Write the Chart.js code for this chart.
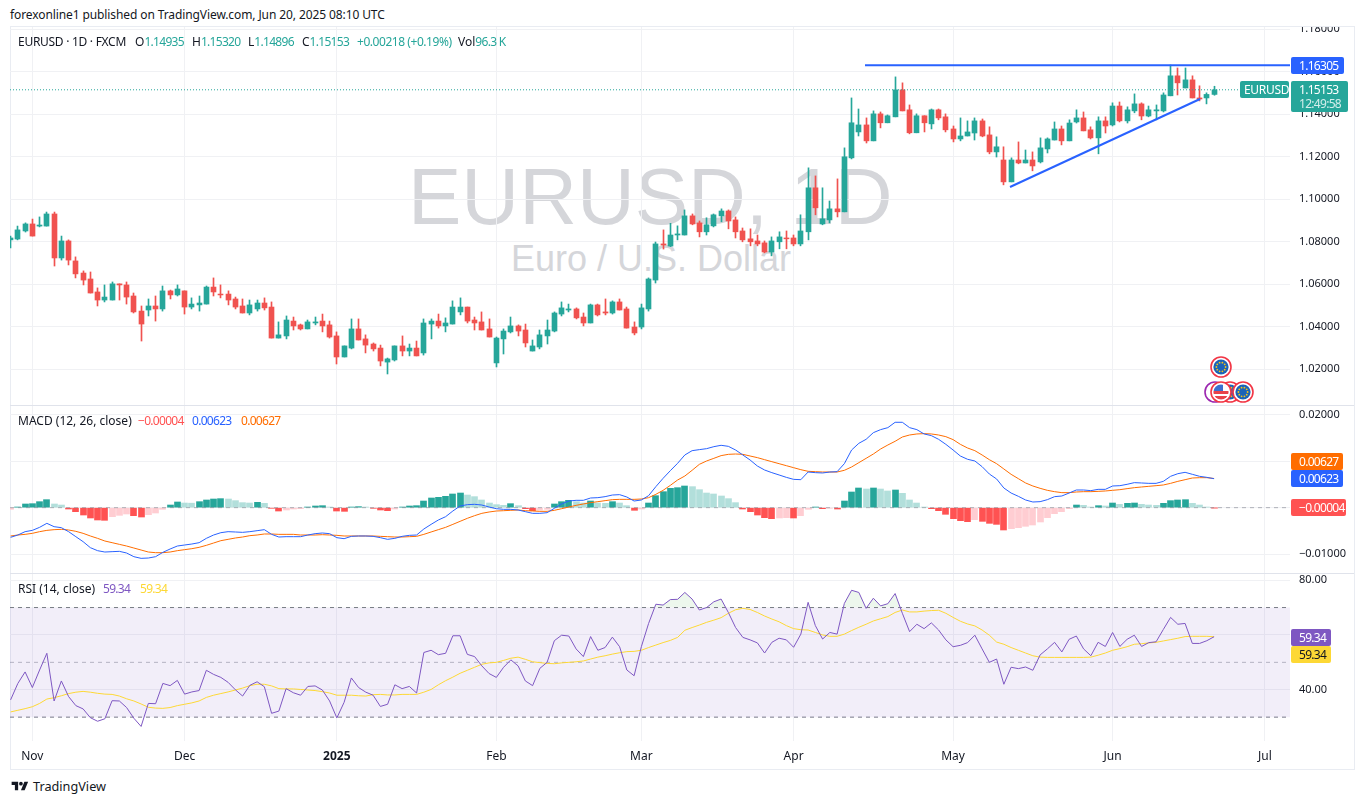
<!DOCTYPE html>
<html><head><meta charset="utf-8">
<script src="https://cdn.jsdelivr.net/npm/chart.js@4/dist/chart.umd.js"></script>
<style>
html,body{margin:0;padding:0;background:#fff;width:1364px;height:804px;overflow:hidden}
body{font-family:"Noto Sans",Roboto,sans-serif;color:#131722}
.a{position:absolute;white-space:nowrap;line-height:1;font-size:12px}
.n{letter-spacing:-.7px}
canvas{position:absolute;left:10px;display:block}
#frame{position:absolute;left:10px;top:26px;width:1343px;height:742px;border:1px solid #e9ecf2;box-sizing:content-box}
.sep{position:absolute;left:10px;width:1344px;height:1px;background:#e0e3eb}
.b{position:absolute;color:#fff;font-size:12px;display:flex;align-items:center;padding-left:8px;box-sizing:border-box;border-radius:2px;letter-spacing:-.7px}
.t{color:#26a69a;letter-spacing:-.7px}
</style></head><body>
<div class="a" style="left:408px;top:157px;font-size:80px;color:#d5d6da;font-family:'Liberation Sans'">EURUSD, 1D</div>
<div class="a" style="left:511px;top:241px;font-size:36px;color:#d5d6da;font-family:'Liberation Sans'">Euro / U.S. Dollar</div>
<div id="frame"></div>
<div class="sep" style="top:405px"></div>
<div class="sep" style="top:573px"></div>
<canvas id="cMain" width="1344" height="378" style="top:27px"></canvas>
<canvas id="cMacd" width="1344" height="167" style="top:406px"></canvas>
<canvas id="cRsi" width="1344" height="194" style="top:574px"></canvas>

<div class="a" style="left:10px;top:9px;letter-spacing:-.1px">forexonline1 published on TradingView.com, Jun 20, 2025 08:10 UTC</div>

<div class="a" style="left:18px;top:36px;letter-spacing:-.28px">EURUSD · 1D · FXCM</div>
<div class="a" style="left:135px;top:36px">O<span class="t">1.14935</span></div>
<div class="a" style="left:192px;top:36px">H<span class="t">1.15320</span></div>
<div class="a" style="left:248px;top:36px">L<span class="t">1.14896</span></div>
<div class="a" style="left:302px;top:36px">C<span class="t">1.15153</span></div>
<div class="a t" style="left:357px;top:36px;letter-spacing:-.45px">+0.00218 (+0.19%)</div>
<div class="a" style="left:458px;top:36px">Vol<span class="t">96.3 K</span></div>

<div class="a" style="left:18px;top:415px">MACD (12, 26, close)</div>
<div class="a n" style="left:138px;top:415px;color:#ff5252">−0.00004</div>
<div class="a n" style="left:192px;top:415px;color:#2962ff">0.00623</div>
<div class="a n" style="left:241px;top:415px;color:#ff6d00">0.00627</div>

<div class="a" style="left:18px;top:583px">RSI (14, close)</div>
<div class="a n" style="left:103px;top:583px;color:#7e57c2">59.34</div>
<div class="a n" style="left:140px;top:583px;color:#fdd835">59.34</div>

<div class="b" style="left:1291px;top:57px;width:53px;height:17px;background:#2962ff">1.16305</div>
<div class="b" style="left:1240px;top:81px;width:49px;height:17px;background:#26a69a;padding-left:4px;letter-spacing:-.3px">EURUSD</div>
<div class="b" style="left:1291px;top:81px;width:57px;height:31px;background:#26a69a;display:block;padding-top:2px"><div style="line-height:14px">1.15153</div><div style="line-height:14px;color:#d4eeeb">12:49:58</div></div>
<div class="b" style="left:1291px;top:453px;width:52px;height:17px;background:#ff6d00">0.00627</div>
<div class="b" style="left:1291px;top:470px;width:52px;height:17px;background:#2962ff">0.00623</div>
<div class="b" style="left:1291px;top:499px;width:55px;height:17px;background:#ff5252">−0.00004</div>
<div class="b" style="left:1291px;top:629px;width:40px;height:17px;background:#7e57c2">59.34</div>
<div class="b" style="left:1291px;top:646px;width:40px;height:17px;background:#fdd835;color:#131722">59.34</div>

<svg id="icons" style="position:absolute;left:1195px;top:350px" width="70" height="60"></svg>

<svg style="position:absolute;left:10px;top:780px" width="20" height="13" viewBox="0 0 36 28"><path d="M14 22H7V11H0V4h14v18zM28 22h-8l7.5-18h8L28 22z" fill="#131722"/><circle cx="20" cy="8" r="4" fill="#131722"/></svg>
<div class="a" style="left:33px;top:780px;font-size:12.7px">TradingView</div>

<script>
const openP=[1.0809,1.0813,1.0851,1.0884,1.0874,1.0874,1.0931,1.0724,1.0804,1.0710,
1.0653,1.0625,1.0564,1.0526,1.0526,1.0602,1.0597,1.0545,1.0474,1.0479,
1.0498,1.0484,1.0569,1.0550,1.0569,1.0493,1.0503,1.0507,1.0587,1.0554,
1.0554,1.0531,1.0498,1.0465,1.0484,1.0512,1.0493,1.0347,1.0357,1.0427,
1.0409,1.0390,1.0418,1.0427,1.0409,1.0357,1.0258,1.0300,1.0390,1.0343,
1.0319,1.0300,1.0234,1.0244,1.0310,1.0286,1.0300,1.0277,1.0413,1.0427,
1.0404,1.0413,1.0470,1.0493,1.0432,1.0423,1.0390,1.0230,1.0343,1.0376,
1.0404,1.0385,1.0286,1.0305,1.0357,1.0380,1.0460,1.0479,1.0484,1.0446,
1.0418,1.0503,1.0470,1.0465,1.0517,1.0484,1.0399,1.0399,1.0484,1.0620,
1.0790,1.0780,1.0832,1.0832,1.0922,1.0889,1.0847,1.0875,1.0922,1.0945,
1.0903,1.0851,1.0814,1.0804,1.0795,1.0752,1.0800,1.0818,1.0818,1.0790,
1.0847,1.1054,1.0884,1.0903,1.0955,1.0941,1.1195,1.1317,1.1350,1.1275,
1.1402,1.1360,1.1388,1.1515,1.1421,1.1313,1.1393,1.1355,1.1421,1.1388,
1.1331,1.1284,1.1298,1.1312,1.1369,1.1303,1.1223,1.1185,1.1082,1.1185,
1.1171,1.1185,1.1176,1.1237,1.1279,1.1331,1.1275,1.1364,1.1383,1.1327,
1.1289,1.1369,1.1350,1.1439,1.1369,1.1416,1.1449,1.1392,1.1416,1.1416,
1.1487,1.1581,1.1524,1.1562,1.1477,1.1477,1.14935];
const closeP=[1.0818,1.0856,1.0884,1.0827,1.0879,1.0931,1.0724,1.0804,1.0714,1.0649,
1.0620,1.0559,1.0526,1.0540,1.0602,1.0597,1.0540,1.0470,1.0413,1.0498,
1.0484,1.0569,1.0550,1.0578,1.0493,1.0507,1.0512,1.0587,1.0564,1.0550,
1.0526,1.0493,1.0465,1.0503,1.0512,1.0489,1.0347,1.0362,1.0432,1.0404,
1.0390,1.0423,1.0423,1.0404,1.0352,1.0258,1.0310,1.0390,1.0338,1.0314,
1.0296,1.0239,1.0249,1.0310,1.0286,1.0300,1.0263,1.0418,1.0427,1.0404,
1.0418,1.0493,1.0493,1.0427,1.0418,1.0385,1.0352,1.0347,1.0380,1.0404,
1.0380,1.0324,1.0310,1.0362,1.0385,1.0465,1.0489,1.0484,1.0442,1.0418,
1.0503,1.0456,1.0465,1.0517,1.0479,1.0394,1.0371,1.0489,1.0625,1.0790,
1.0785,1.0832,1.0837,1.0922,1.0884,1.0847,1.0880,1.0927,1.0945,1.0898,
1.0847,1.0809,1.0800,1.0790,1.0752,1.0804,1.0823,1.0814,1.0790,1.0851,
1.1054,1.0960,1.0908,1.0955,1.0941,1.1200,1.1360,1.1350,1.1275,1.1402,
1.1360,1.1393,1.1515,1.1416,1.1313,1.1393,1.1360,1.1421,1.1383,1.1327,
1.1284,1.1298,1.1317,1.1369,1.1298,1.1223,1.1247,1.1082,1.1185,1.1171,
1.1185,1.1157,1.1242,1.1284,1.1331,1.1275,1.1359,1.1383,1.1322,1.1289,
1.1369,1.1345,1.1439,1.1369,1.1421,1.1449,1.1392,1.1421,1.1421,1.1491,
1.1581,1.1548,1.1562,1.1477,1.1472,1.14935,1.15153];
const highP=[1.0827,1.0874,1.0889,1.0907,1.0917,1.0940,1.0940,1.0827,1.0809,1.0729,
1.0663,1.0658,1.0583,1.0597,1.0611,1.0602,1.0611,1.0559,1.0498,1.0531,
1.0545,1.0592,1.0573,1.0597,1.0569,1.0536,1.0545,1.0592,1.0630,1.0597,
1.0569,1.0540,1.0531,1.0526,1.0526,1.0536,1.0517,1.0423,1.0451,1.0446,
1.0413,1.0432,1.0446,1.0460,1.0427,1.0376,1.0310,1.0437,1.0437,1.0362,
1.0324,1.0314,1.0253,1.0310,1.0357,1.0319,1.0333,1.0437,1.0437,1.0460,
1.0442,1.0522,1.0536,1.0493,1.0446,1.0470,1.0437,1.0352,1.0390,1.0446,
1.0409,1.0413,1.0338,1.0385,1.0432,1.0470,1.0517,1.0507,1.0489,1.0465,
1.0507,1.0507,1.0531,1.0522,1.0531,1.0493,1.0423,1.0507,1.0630,1.0799,
1.0856,1.0887,1.0875,1.0950,1.0931,1.0898,1.0913,1.0931,1.0955,1.0950,
1.0917,1.0865,1.0861,1.0832,1.0804,1.0823,1.0847,1.0851,1.0832,1.0927,
1.1148,1.1110,1.1054,1.0992,1.1096,1.1242,1.1477,1.1425,1.1383,1.1416,
1.1411,1.1397,1.1576,1.1548,1.1444,1.1402,1.1393,1.1425,1.1425,1.1402,
1.1345,1.1383,1.1369,1.1383,1.1378,1.1341,1.1294,1.1247,1.1195,1.1270,
1.1232,1.1223,1.1289,1.1289,1.1364,1.1345,1.1374,1.1421,1.1411,1.1341,
1.1388,1.1388,1.1454,1.1458,1.1435,1.1496,1.1454,1.1439,1.1444,1.1501,
1.1632,1.1618,1.1618,1.1581,1.1534,1.1501,1.1532];
const lowP=[1.0771,1.0809,1.0846,1.0827,1.0870,1.0874,1.0686,1.0714,1.0691,1.0630,
1.0597,1.0559,1.0498,1.0517,1.0526,1.0526,1.0507,1.0465,1.0333,1.0451,
1.0427,1.0474,1.0531,1.0545,1.0460,1.0484,1.0474,1.0507,1.0545,1.0536,
1.0503,1.0484,1.0465,1.0456,1.0474,1.0479,1.0347,1.0347,1.0343,1.0385,
1.0385,1.0390,1.0409,1.0376,1.0347,1.0225,1.0258,1.0296,1.0338,1.0277,
1.0286,1.0216,1.0178,1.0239,1.0263,1.0263,1.0263,1.0267,1.0343,1.0394,
1.0376,1.0413,1.0456,1.0418,1.0385,1.0385,1.0352,1.0211,1.0272,1.0371,
1.0357,1.0305,1.0286,1.0296,1.0319,1.0376,1.0451,1.0470,1.0437,1.0404,
1.0418,1.0451,1.0456,1.0460,1.0479,1.0394,1.0362,1.0390,1.0474,1.0606,
1.0766,1.0777,1.0809,1.0832,1.0880,1.0823,1.0832,1.0870,1.0894,1.0861,
1.0818,1.0800,1.0781,1.0781,1.0748,1.0734,1.0767,1.0767,1.0781,1.0781,
1.0809,1.0927,1.0880,1.0889,1.0917,1.0941,1.1190,1.1298,1.1265,1.1275,
1.1336,1.1360,1.1388,1.1416,1.1308,1.1313,1.1317,1.1331,1.1374,1.1317,
1.1270,1.1275,1.1298,1.1279,1.1294,1.1214,1.1199,1.1068,1.1082,1.1167,
1.1171,1.1134,1.1171,1.1218,1.1279,1.1256,1.1275,1.1359,1.1322,1.1284,
1.1214,1.1312,1.1345,1.1364,1.1359,1.1407,1.1374,1.1388,1.1374,1.1411,
1.1487,1.1491,1.1524,1.1477,1.1463,1.1449,1.14896];

const macdLine=[-.00638,-.00588,-.00516,-.00488,-.00423,-.00337,-.00409,-.0043,-.00516,-.00624,
-.00731,-.0086,-.00925,-.00954,-.00946,-.00939,-.00975,-.01054,-.0109,-.01083,
-.01054,-.00961,-.00889,-.00825,-.00803,-.00782,-.00753,-.0066,-.00588,-.00538,
-.00516,-.00523,-.00531,-.00516,-.00495,-.00473,-.00574,-.00631,-.00624,-.00624,
-.00624,-.00588,-.00559,-.00545,-.00559,-.00645,-.00667,-.00617,-.00609,-.00609,
-.00617,-.00645,-.00681,-.0066,-.00617,-.00595,-.00588,-.00459,-.00359,-.00265,
-.00194,-.00072,.00036,.00065,.00072,.00057,.00014,-.00022,-.00036,-.00036,
-.0005,-.00086,-.00122,-.00122,-.00108,-.00014,.00079,.00143,.00158,.00158,
.00208,.00215,.00237,.00272,.0028,.00229,.00143,.00165,.00258,.00452,
.00631,.00796,.00954,.01133,.01226,.01248,.01269,.01312,.01341,.01319,
.0124,.01133,.01025,.00896,.0081,.00753,.00703,.00652,.00609,.00602,
.00767,.00753,.00746,.00767,.00774,.00946,.0124,.01384,.0147,.01613,
.01678,.01721,.01836,.01836,.01721,.01678,.01585,.01549,.0147,.01362,
.0124,.01111,.0104,.01004,.00882,.00724,.00617,.00423,.00315,.00244,
.00165,.00122,.00129,.00172,.00237,.00251,.00315,.0038,.0038,.00366,
.00394,.00394,.00466,.00473,.00502,.00538,.00531,.00523,.00523,.00566,
.00674,.00731,.0076,.00717,.00674,.00652,.00623];
const signalLine=[-.00609,-.00588,-.00574,-.00552,-.00516,-.00488,-.00473,-.00466,-.0048,-.00509,
-.00552,-.00609,-.0066,-.00717,-.00753,-.00789,-.00825,-.00868,-.00911,-.00954,
-.00968,-.00968,-.00954,-.00925,-.00903,-.00882,-.00853,-.0081,-.0076,-.0071,
-.00681,-.00652,-.00631,-.00602,-.00588,-.00566,-.00566,-.00574,-.00574,-.00574,
-.00588,-.00588,-.00588,-.00581,-.00588,-.00595,-.00609,-.00609,-.00609,-.00609,
-.00609,-.00617,-.00624,-.00631,-.00631,-.00624,-.00617,-.00574,-.00523,-.00473,
-.00423,-.00359,-.00294,-.00229,-.00172,-.00122,-.00093,-.00072,-.00065,-.00057,
-.0005,-.00065,-.00072,-.00079,-.00079,-.00057,-.00022,.00014,.0005,.00079,
.00108,.00129,.00151,.00172,.00179,.00179,.00179,.00186,.00215,.00287,
.00373,.0048,.00595,.00681,.00803,.00932,.01004,.01061,.01119,.01147,
.01154,.01147,.01111,.01076,.01032,.00989,.00946,.00903,.0086,.00817,
.00782,.00774,.00767,.00767,.00767,.00803,.00875,.00968,.01061,.01154,
.01262,.01348,.01427,.0152,.01563,.01585,.01592,.01585,.01563,.01527,
.01463,.01362,.01283,.01226,.01133,.01032,.00946,.00832,.00717,.00624,
.00531,.00466,.00416,.00373,.00344,.00323,.00323,.00337,.00344,.00344,
.00351,.00359,.00373,.00387,.00409,.0043,.00445,.00459,.00473,.00488,
.00523,.00566,.00602,.00638,.00645,.00645,.00627];
const macdHist=[-.00036,.00014,.00079,.00086,.00129,.00172,.00079,.00057,-.00029,-.00086,
-.00158,-.00222,-.00265,-.00272,-.00194,-.00165,-.00136,-.00172,-.00201,-.00151,
-.00115,-.00036,.00057,.00122,.001,.00097,.00129,.00165,.00186,.00194,
.00186,.00151,.00108,.001,.00115,.00093,-.00014,-.00072,-.0005,-.00029,
-.00022,.00014,.00036,.00043,.00014,-.00072,-.00079,.00014,.00022,.00014,
-.00014,-.0005,-.00065,-.00029,.00014,.00036,.00043,.00143,.00208,.00222,
.00244,.00294,.00315,.00272,.00237,.00165,.001,.00065,.0005,.00086,
.00043,-.00022,-.00065,-.0005,-.00036,.00079,.00129,.00158,.00129,.001,
.00143,.001,.00093,.00129,.001,.00043,-.00057,-.00029,.001,.00258,
.00344,.00416,.0043,.00466,.00452,.00387,.00315,.00294,.00251,.00194,
.00108,-.00029,-.00086,-.00158,-.00215,-.00237,-.00222,-.00215,-.00222,-.00172,
-.00036,.00014,-.00022,-.00014,-.00029,.00143,.00337,.00423,.00401,.00423,
.00401,.00359,.0038,.00308,.00165,.001,.00014,-.00022,-.00065,-.00143,
-.00237,-.0028,-.00301,-.00258,-.00294,-.00337,-.00359,-.0048,-.00452,-.0043,
-.00401,-.00373,-.00308,-.00215,-.00129,-.00086,-.00022,.00057,.0005,.00014,
.00043,.00036,.001,.00072,.00093,.001,.00072,.00057,.0005,.00093,
.00151,.00165,.00172,.00093,.00057,.00014,-.00004];

const rsiLine=[36.3,42.3,46.5,40.8,47.2,53.3,35.9,43.2,37.5,34.2,
33,29.8,28.5,29.4,36,35.9,33.5,29.6,26.6,35,
34.9,42.3,41.5,43.4,38.4,39.2,39.7,47.1,45.6,44.5,
42.7,40,37.7,41.6,42.9,41.1,31.4,32.2,40.4,38.9,
38,41.2,41.4,39.9,35.9,29.7,35.4,44.3,40.8,39.1,
38,33.9,34.7,41.8,40.4,41.2,38.8,53.6,54.4,52.8,
53.3,59.7,59.7,52.9,52.1,48.7,45.9,44.5,48.2,50.9,
48.7,43.2,41.5,47.8,50,57.9,59.9,59.6,54.9,52.1,
59.4,54.4,55.4,59.2,55.7,47.2,45.1,55.7,64.2,71.2,
70.9,72.9,73,75.5,73.1,69.1,70,72.1,73.1,68.2,
62.7,59.1,58.2,57.1,53.4,57.3,58.8,58.2,55.5,60.3,
71.9,63.4,58.5,60.9,60.3,71.5,76.3,75.5,69.7,73.4,
70.6,71.4,75.1,67.9,61.2,63.9,62.3,64.4,61.8,58.2,
55.7,56.2,57.2,59.9,54.9,50,51.2,42,48.2,47.7,
48.3,47.1,52.7,54.9,57.3,53.8,58.4,59.6,54.9,52.4,
57.3,55.8,60.9,55.8,58.4,59.9,55.8,57.2,57.5,62,
66.4,63.9,64.2,56.9,56.9,57.9,59.34];
const rsiAvg=[31.9,32.5,33.1,33.8,35,36.6,37.1,37.8,38.6,39.1,
39.4,39.1,38.7,38.4,38.3,37.7,36.7,35.9,34.8,33.6,
33.3,33.2,33.5,34.2,34.7,35.2,35.9,37.2,38,38.6,
39.2,39.9,40.6,41.5,42,42,41.4,40.4,40.3,40.3,
40.1,39.9,39.7,39.3,38.8,38,38,38,37.8,37.7,
38.2,38.3,38.1,38.1,38.3,38.3,38.3,39.1,40.1,41.8,
43.3,44.6,46,47.1,48.2,49.3,49.8,50,50.7,51.5,
51.9,51.1,50.2,49.9,49.6,49.5,49.8,50,50.2,50.5,
51.2,51.9,52.4,53,53.5,53.9,54,54.4,55.4,56.3,
57.2,58,59.1,61.7,62.7,63.6,64.6,65.4,66.3,67.9,
69.2,69.7,69.3,68.2,66.9,65.8,64.8,63.4,62.3,61.9,
61.8,60.9,60,59.5,59.5,60.3,61.6,62.8,63.9,65.1,
65.9,66.7,68.2,69.1,68.4,68.4,68.7,68.9,69,67.9,
66.4,65,64,63.3,61.8,59.9,57.4,56.6,55.4,54.4,
53.4,52.4,51.9,51.8,51.8,51.8,51.8,51.8,51.8,51.9,
52.6,53.4,54.4,55,55.7,56.6,56.8,57.1,57.3,57.8,
58.3,58.8,59.4,59.5,59.5,59.5,59.34];

const priceTicks=[1.18,1.16,1.14,1.12,1.10,1.08,1.06,1.04,1.02];
const macdTicks=[0.02,0.01,0,-0.01];
const macdLabelled=[0.02,-0.01];
const rsiTicks=[80,60,40];
const monthIdx=[3,24,45,67,87,108,130,152,173];
const monthLabels=['Nov','Dec','2025','Feb','Mar','Apr','May','Jun','Jul'];
const resistanceStart=117.85, resistanceLevel=1.16305;
const trendIdx=[137.85,164.06], trendPrice=[1.1058,1.1472];

const UP='#26a69a',DOWN='#f0524f',GRID='#f0f1f4';
const X_MIN=-0.083,X_MAX=176.47;
const FONT='"Noto Sans",Roboto,sans-serif';
const idx=closeP.map((_,i)=>i);
const lineData=a=>a.map((v,i)=>({x:i,y:v}));
const minus=s=>s.replace('-','\u2212');

const snap={id:'snap',beforeDatasetsDraw(chart){
  chart.getSortedVisibleDatasetMetas().forEach(m=>{
    if(m.type==='bar')m.data.forEach(el=>{el.x=Math.floor(el.x)+0.5;});
  });
}};
const fixW=s=>{s.width=64;s.paddingTop=0;s.paddingBottom=0;};
function xScale(last){return{type:'linear',offset:false,min:X_MIN,max:X_MAX,
  afterBuildTicks(s){s.ticks=monthIdx.map(v=>({value:v}));},
  afterFit(s){s.height=last?27:0;s.paddingLeft=0;s.paddingRight=0;},
  border:{display:false},
  grid:{color:GRID,drawTicks:false,offset:false},
  ticks:{display:!!last,autoSkip:false,maxRotation:0,padding:8,color:'#131722',
    font:c=>({family:FONT,size:12,weight:c.tick&&c.tick.value===45?'700':'400'}),
    callback:v=>monthLabels[monthIdx.indexOf(v)]}};}
function yScale(min,max,ticks,fmt){return{position:'right',min,max,
  afterBuildTicks(s){s.ticks=ticks.map(v=>({value:v}));},
  afterFit:fixW,
  border:{display:false},
  grid:{color:GRID,drawTicks:false},
  ticks:{autoSkip:false,padding:9,color:'#131722',font:{family:FONT,size:11},callback:fmt}};}
const base={responsive:false,animation:false,devicePixelRatio:1,
  layout:{padding:0},
  plugins:{legend:{display:false},tooltip:{enabled:false}},
  events:[]};
const flat=(y,o)=>Object.assign({type:'line',data:[{x:X_MIN,y},{x:X_MAX,y}],pointRadius:0,borderWidth:1},o);

new Chart(document.getElementById('cMain'),{type:'bar',plugins:[snap],
 data:{datasets:[
  {type:'line',data:[{x:resistanceStart,y:resistanceLevel},{x:X_MAX,y:resistanceLevel}],borderColor:'#2962ff',borderWidth:2,pointRadius:0},
  {type:'line',data:[{x:trendIdx[0],y:trendPrice[0]},{x:trendIdx[1],y:trendPrice[1]}],borderColor:'#2962ff',borderWidth:2,pointRadius:0},
  flat(closeP[closeP.length-1],{borderColor:UP,borderDash:[1,2]}),
  {type:'bar',data:idx.map(i=>({x:i,y:[openP[i],closeP[i]]})),barThickness:5,grouped:false,borderWidth:0,
   backgroundColor:idx.map(i=>closeP[i]>=openP[i]?UP:DOWN)},
  {type:'bar',data:idx.map(i=>({x:i,y:[lowP[i],highP[i]]})),barThickness:1,grouped:false,borderWidth:0,
   backgroundColor:idx.map(i=>closeP[i]>=openP[i]?UP:DOWN)}
 ]},
 options:Object.assign({},base,{scales:{x:xScale(false),
   y:yScale(1.0032,1.18108,priceTicks,v=>v.toFixed(5))}})});

const histColor=macdHist.map((v,i)=>{const p=i?macdHist[i-1]:v;
  return v>=0?(v>p?'#26a69a':'#b2dfdb'):(v<p?'#ff5252':'#ffcdd2');});
new Chart(document.getElementById('cMacd'),{type:'bar',plugins:[snap],
 data:{datasets:[
  {type:'line',data:lineData(macdLine),borderColor:'#2962ff',borderWidth:1,pointRadius:0},
  {type:'line',data:lineData(signalLine),borderColor:'#ff6d00',borderWidth:1,pointRadius:0},
  flat(0,{borderColor:'rgba(120,123,134,.55)',borderDash:[4,4]}),
  {type:'bar',data:lineData(macdHist),barThickness:6,grouped:false,borderWidth:0,backgroundColor:histColor}
 ]},
 options:Object.assign({},base,{scales:{x:xScale(false),
   y:yScale(-.01405,.021864,macdTicks,v=>macdLabelled.includes(v)?minus(v.toFixed(5)):'')}})});

new Chart(document.getElementById('cRsi'),{type:'line',
 data:{datasets:[
  {data:lineData(rsiLine),borderColor:'#7e57c2',borderWidth:1,pointRadius:0,
   fill:{target:{value:70},above:'rgba(76,175,80,.10)',below:'rgba(0,0,0,0)'}},
  {data:lineData(rsiAvg),borderColor:'#fdd835',borderWidth:1,pointRadius:0},
  flat(70,{borderColor:'#787b86',borderDash:[4,4],fill:{target:{value:30}},backgroundColor:'rgba(126,87,194,.1)'}),
  flat(50,{borderColor:'rgba(120,123,134,.5)',borderDash:[4,4]}),
  flat(30,{borderColor:'#787b86',borderDash:[4,4]})
 ]},
 options:Object.assign({},base,{scales:{x:xScale(true),
   y:yScale(21.29,82.24,rsiTicks,v=>(v===80||v===40)?v.toFixed(2):'')}})});

// event markers (decorative icons)
(function(){
 const svg=document.getElementById('icons'),NS='http://www.w3.org/2000/svg';
 const add=(n,at)=>{const e=document.createElementNS(NS,n);for(const k in at)e.setAttribute(k,at[k]);svg.appendChild(e);return e;};
 const ring=(cx,cy,col)=>{add('circle',{cx,cy,r:10,fill:'#fff',stroke:col,'stroke-width':1.6});};
 const eu=(cx,cy)=>{ring(cx,cy,'#f23645');add('circle',{cx,cy,r:7.6,fill:'#1b63b8'});
   for(let k=0;k<10;k++){const t=k*Math.PI/5;add('circle',{cx:cx+4.6*Math.cos(t),cy:cy+4.6*Math.sin(t),r:.9,fill:'#f5c518'});}};
 const us=(cx,cy)=>{ring(cx,cy,'#f23645');
   const id='c'+cx;const d=add('clipPath',{id});const c=document.createElementNS(NS,'circle');c.setAttribute('cx',cx);c.setAttribute('cy',cy);c.setAttribute('r',7.6);d.appendChild(c);
   const g=add('g',{'clip-path':'url(#'+id+')'});
   const r=(x,y,w,h,f)=>{const e=document.createElementNS(NS,'rect');e.setAttribute('x',x);e.setAttribute('y',y);e.setAttribute('width',w);e.setAttribute('height',h);e.setAttribute('fill',f);g.appendChild(e);};
   r(cx-8,cy-8,16,16,'#fff');r(cx-8,cy-1,16,3,'#e8424a');r(cx-8,cy+4,16,4,'#e8424a');r(cx-8,cy-8,10,7,'#3a6fd0');};
 add('circle',{cx:20,cy:42,r:10,fill:'#fff',stroke:'#9c27b0','stroke-width':1.6});
 eu(35,42);eu(48,42);us(26,42);eu(26,17);
})();
</script>
</body></html>
